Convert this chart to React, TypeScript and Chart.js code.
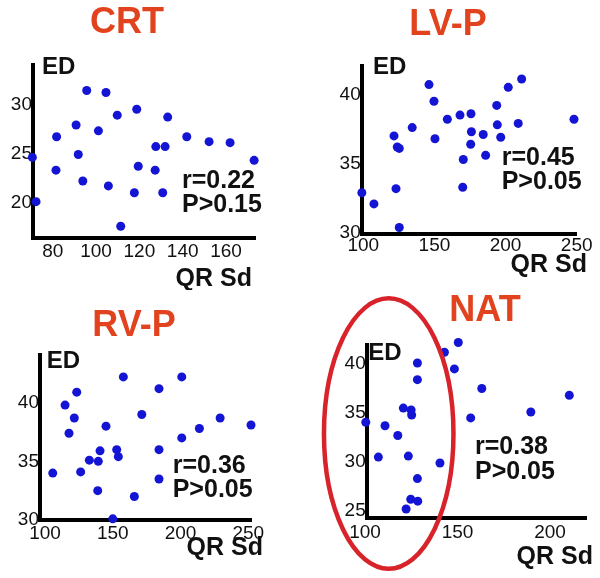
import React, { useEffect, useRef } from "react";
import { Chart, registerables } from "chart.js";

Chart.register(...registerables);

// ---------- data ----------
const crtQRSd = [70.6, 72.3, 81.8, 81.5, 90.8, 91.8, 93.9, 95.7, 101.1, 104.6, 105.7, 109.8, 111.4, 117.7, 118.8, 119.5, 127.3, 127.6, 130.8, 131.9, 133.1, 141.9, 152.2, 161.9, 173.0];
const crtED = [24.6, 20.1, 26.7, 23.3, 27.9, 24.9, 22.2, 31.4, 27.3, 31.2, 21.7, 28.9, 17.6, 21.0, 29.5, 23.7, 23.3, 25.7, 21.0, 25.7, 28.7, 26.7, 26.2, 26.1, 24.3];
const crtXTicks = [80, 100, 120, 140, 160];
const crtYTicks = [20, 25, 30];

const lvpQRSd = [99, 107.5, 121.6, 123.0, 123.9, 125.3, 125.3, 134.4, 146.2, 149.7, 150.4, 159.1, 168.0, 170.3, 169.9, 175.7, 176.0, 175.5, 184.3, 186.0, 193.8, 194.2, 196.6, 201.9, 208.9, 211.3, 248.1];
const lvpED = [32.9, 32.1, 37.0, 33.2, 36.2, 36.1, 30.4, 37.6, 40.7, 39.5, 36.8, 38.2, 38.5, 35.3, 33.3, 38.6, 37.3, 36.4, 37.1, 35.6, 39.2, 37.8, 36.9, 40.5, 37.9, 41.1, 38.2];
const lvpXTicks = [100, 150, 200, 250];
const lvpYTicks = [30, 35, 40];

const rvpQRSd = [105.7, 114.8, 117.7, 121.6, 123.4, 126.3, 132.7, 138.9, 139.3, 140.6, 145.0, 150.0, 152.9, 154.1, 157.8, 165.9, 171.4, 184.1, 184.1, 184.1, 200.9, 200.9, 213.9, 229.2, 252.0];
const rvpED = [34.0, 39.8, 37.4, 38.7, 40.9, 34.1, 35.1, 32.5, 35.0, 35.9, 38.0, 30.1, 36.0, 35.4, 42.2, 32.0, 39.0, 41.2, 36.0, 33.5, 42.2, 37.0, 37.8, 38.7, 38.1];
const rvpXTicks = [100, 150, 200, 250];
const rvpYTicks = [30, 35, 40];

const natQRSd = [100.4, 107.2, 110.8, 117.7, 120.7, 122.2, 123.4, 124.7, 124.9, 125.2, 128.3, 128.3, 128.3, 128.5, 140.5, 141.5, 142.9, 148.3, 150.4, 157.1, 163.1, 189.6, 210.4];
const natED = [34.05, 30.5, 33.7, 32.7, 35.5, 25.2, 30.6, 26.2, 35.3, 34.8, 40.1, 38.4, 28.3, 26.0, 29.9, 42.8, 41.2, 39.5, 42.2, 34.5, 37.5, 35.1, 36.8];
const natXTicks = [100, 150, 200];
const natYTicks = [25, 30, 35, 40];

const panelTitles = ["CRT", "LV-P", "RV-P", "NAT"];
const panelR = ["r=0.22", "r=0.45", "r=0.36", "r=0.38"];
const panelP = ["P>0.15", "P>0.05", "P>0.05", "P>0.05"];

// highlighted region on NAT panel (data units)
const natEllipse = { cx: 112.8, cy: 32.9, rx: 35, ry: 13.8 };

// ---------- layout / style ----------
const FONT = '"Liberation Sans", Arial, Helvetica, sans-serif';
const TITLE_COLOR = "#e2431f";
const DOT_COLOR = "#1414d4";

type Panel = {
  idx: number;
  xs: number[];
  ys: number[];
  xTicks: number[];
  yTicks: number[];
  xMin: number; xMax: number; yMin: number; yMax: number;
  left: number; top: number; w: number; h: number;
  area: { l: number; t: number; r: number; b: number };
  xPad: number;
  titlePos: [number, number];
  edPos: [number, number];
  statPos: [number, number, number];
  qrsPos: [number, number];
  ellipse?: typeof natEllipse;
};

const panels: Panel[] = [
  {
    idx: 0, xs: crtQRSd, ys: crtED, xTicks: crtXTicks, yTicks: crtYTicks,
    xMin: 70.9, xMax: 173.4, yMin: 16.4, yMax: 34,
    left: 0, top: 0, w: 300, h: 290,
    area: { l: 33, t: 65, r: 255, b: 238 }, xPad: 2,
    titlePos: [127, 23], edPos: [42, 67], statPos: [182, 181, 205], qrsPos: [252, 279],
  },
  {
    idx: 1, xs: lvpQRSd, ys: lvpED, xTicks: lvpXTicks, yTicks: lvpYTicks,
    xMin: 98.9, xMax: 250, yMin: 29.93, yMax: 42.04,
    left: 300, top: 0, w: 300, h: 290,
    area: { l: 61.7, t: 66, r: 276.7, b: 234 }, xPad: 0,
    titlePos: [148, 25], edPos: [73, 67], statPos: [201.7, 158, 182], qrsPos: [287, 265],
  },
  {
    idx: 2, xs: rvpQRSd, ys: rvpED, xTicks: rvpXTicks, yTicks: rvpYTicks,
    xMin: 96.3, xMax: 252.5, yMin: 30, yMax: 44.07,
    left: 0, top: 290, w: 300, h: 288,
    area: { l: 40, t: 65, r: 251.7, b: 230 }, xPad: 2,
    titlePos: [134, 36], edPos: [46.7, 71], statPos: [172.7, 176, 200], qrsPos: [263, 258],
  },
  {
    idx: 3, xs: natQRSd, ys: natED, xTicks: natXTicks, yTicks: natYTicks,
    xMin: 100.9, xMax: 219.8, yMin: 24.25, yMax: 41.94,
    left: 300, top: 290, w: 300, h: 288,
    area: { l: 66.7, t: 55, r: 286.7, b: 228.3 }, xPad: 3,
    titlePos: [185, 21], edPos: [68.3, 63.3], statPos: [175, 156.7, 181.7], qrsPos: [293, 266.7],
    ellipse: natEllipse,
  },
];

function makeTextPlugin(p: Panel) {
  return {
    id: "panelText" + p.idx,
    afterDraw(chart: any) {
      const ctx = chart.ctx as CanvasRenderingContext2D;
      ctx.save();
      ctx.textBaseline = "middle";
      // title
      ctx.fillStyle = TITLE_COLOR;
      ctx.font = `bold 36px ${FONT}`;
      ctx.textAlign = "center";
      ctx.fillText(panelTitles[p.idx], p.titlePos[0], p.titlePos[1]);
      // axis names
      ctx.fillStyle = "#111";
      ctx.font = `bold 24px ${FONT}`;
      ctx.textAlign = "left";
      ctx.fillText("ED", p.edPos[0], p.edPos[1]);
      ctx.font = `bold 25px ${FONT}`;
      ctx.textAlign = "right";
      ctx.fillText("QR Sd", p.qrsPos[0], p.qrsPos[1]);
      // statistics
      ctx.textAlign = "left";
      ctx.font = `bold 25px ${FONT}`;
      ctx.fillText(panelR[p.idx], p.statPos[0], p.statPos[1]);
      ctx.fillText(panelP[p.idx], p.statPos[0], p.statPos[2]);
      // ellipse highlight
      if (p.ellipse) {
        const xs = chart.scales.x;
        const ys = chart.scales.y;
        const e = p.ellipse;
        const cx = xs.getPixelForValue(e.cx);
        const cy = ys.getPixelForValue(e.cy);
        const rx = Math.abs(xs.getPixelForValue(e.cx + e.rx) - cx);
        const ry = Math.abs(ys.getPixelForValue(e.cy + e.ry) - cy);
        ctx.strokeStyle = "#d8232a";
        ctx.lineWidth = 4.5;
        ctx.beginPath();
        ctx.ellipse(cx, cy, rx, ry, 0, 0, Math.PI * 2);
        ctx.stroke();
      }
      ctx.restore();
    },
  };
}

function PanelChart({ p }: { p: Panel }) {
  const ref = useRef<HTMLCanvasElement | null>(null);
  useEffect(() => {
    if (!ref.current) return;
    const tickFont = { size: 19, family: FONT };
    const chart = new Chart(ref.current, {
      type: "scatter",
      data: {
        datasets: [
          {
            data: p.xs.map((x, i) => ({ x, y: p.ys[i] })),
            backgroundColor: DOT_COLOR,
            borderWidth: 0,
            pointRadius: 4.5,
            pointHoverRadius: 4.5,
            clip: false as any,
          },
        ],
      },
      options: {
        responsive: false,
        animation: false,
        layout: { padding: { left: 0, top: p.area.t, right: p.w - p.area.r, bottom: 0 } },
        plugins: { legend: { display: false }, tooltip: { enabled: false } },
        scales: {
          x: {
            type: "linear",
            min: p.xMin,
            max: p.xMax,
            afterBuildTicks: (s: any) => { s.ticks = p.xTicks.map((v) => ({ value: v })); },
            afterFit: (s: any) => { s.height = p.h - p.area.b; },
            grid: { display: false, drawTicks: false },
            border: { display: true, width: 4, color: "#000" },
            ticks: { padding: p.xPad, color: "#111", font: tickFont, maxRotation: 0, autoSkip: false },
          },
          y: {
            type: "linear",
            min: p.yMin,
            max: p.yMax,
            afterBuildTicks: (s: any) => { s.ticks = p.yTicks.map((v) => ({ value: v })); },
            afterFit: (s: any) => { s.width = p.area.l; },
            grid: { display: false, drawTicks: false },
            border: { display: true, width: 4, color: "#000" },
            ticks: { padding: 1, color: "#111", font: tickFont, autoSkip: false },
          },
        },
      },
      plugins: [makeTextPlugin(p)],
    } as any);
    return () => chart.destroy();
  }, [p]);
  return (
    <canvas
      ref={ref}
      width={p.w}
      height={p.h}
      style={{ position: "absolute", left: p.left, top: p.top, width: p.w, height: p.h }}
    />
  );
}

export default function App() {
  return (
    <div style={{ position: "fixed", left: 0, top: 0, width: 600, height: 578, background: "#fff" }}>
      {panels.map((p) => (
        <PanelChart key={p.idx} p={p} />
      ))}
    </div>
  );
}
